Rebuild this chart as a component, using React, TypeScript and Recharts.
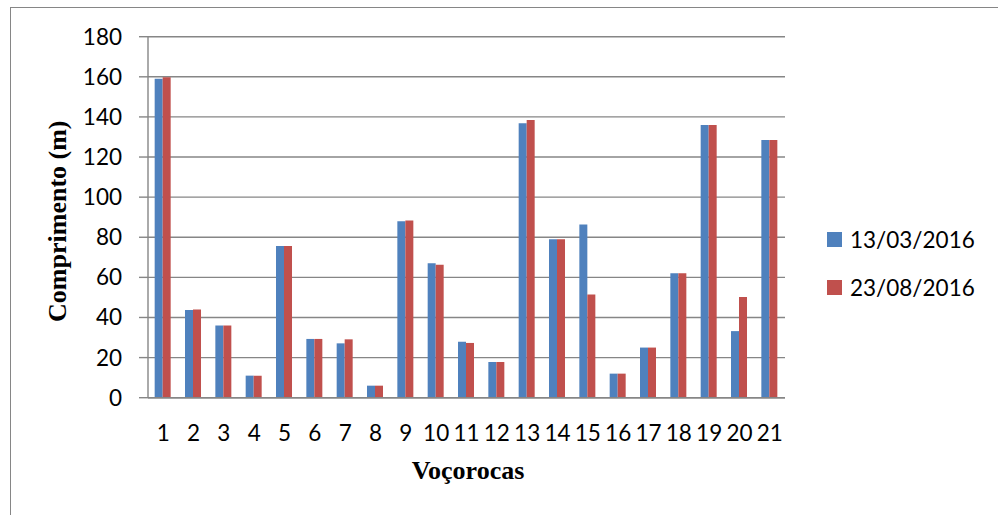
import { Bar, BarChart, CartesianGrid, Legend, XAxis, YAxis } from "recharts";

// Comprimento das voçorocas medido em duas campanhas (m)
const vocorocas = ["1", "2", "3", "4", "5", "6", "7", "8", "9", "10", "11", "12", "13", "14", "15", "16", "17", "18", "19", "20", "21"];
const medicaoMarco = [159, 43.7, 36, 11, 75.6, 29.3, 27.1, 6, 88, 67, 27.9, 17.8, 136.8, 79, 86.3, 12, 25, 62, 136, 33.2, 128.5];
const medicaoAgosto = [159.8, 44, 36, 11, 75.6, 29.3, 29.1, 6, 88.4, 66.3, 27.3, 17.8, 138.5, 79, 51.5, 12, 25, 62, 136, 50.2, 128.5];
const yTicks = [0, 20, 40, 60, 80, 100, 120, 140, 160, 180];

const rows = vocorocas.map((v, i) => ({ v, mar: medicaoMarco[i], ago: medicaoAgosto[i] }));

const GRAY = "#868686";
const TICK_FONT = "Lato, 'Open Sans', sans-serif";
const TITLE_FONT = "'Liberation Serif', 'Times New Roman', serif";

function AxisTitleX(props: any) {
  const vb = props.viewBox || { x: 148, y: 398, width: 637, height: 61 };
  return (
    <text x={vb.x + vb.width / 2 + 1.5} y={vb.y + 81.5} textAnchor="middle" fontFamily={TITLE_FONT} fontWeight="bold" fontSize={26} fill="#000">
      Voçorocas
    </text>
  );
}

function AxisTitleY(props: any) {
  const vb = props.viewBox || { x: 0, y: 37, width: 148, height: 361 };
  const cx = vb.x + 66;
  const cy = vb.y + vb.height / 2 + 4;
  return (
    <text x={cx} y={cy} transform={`rotate(-90, ${cx}, ${cy})`} textAnchor="middle" fontFamily={TITLE_FONT} fontWeight="bold" fontSize={26} fill="#000">
      Comprimento (m)
    </text>
  );
}

function LegendBox({ payload }: any) {
  return (
    <div style={{ fontFamily: TICK_FONT, fontSize: 22.5, color: "#000" }}>
      {(payload || []).map((p: any) => (
        <div key={p.value} style={{ display: "flex", alignItems: "center", height: 29, marginBottom: 19, whiteSpace: "nowrap" }}>
          <span style={{ display: "inline-block", width: 15, height: 15, background: p.color, marginRight: 8 }} />
          <span>{p.value}</span>
        </div>
      ))}
    </div>
  );
}

export default function App() {
  return (
    <div style={{ position: "absolute", left: 0, top: 0, width: 998, height: 515, overflow: "hidden", background: "#fff" }}>
      <div style={{ position: "absolute", left: 10, top: 7, width: 1000, height: 600, border: `1.5px solid ${GRAY}` }} />
      <BarChart
        width={998}
        height={515}
        data={rows}
        margin={{ top: 36.7, right: 213, bottom: 56.3, left: 0 }}
        barCategoryGap="22%"
        barGap={0}
      >
        <CartesianGrid horizontal vertical={false} stroke={GRAY} strokeWidth={1.4} />
        <XAxis
          dataKey="v"
          interval={0}
          height={61}
          tickLine={false}
          tickSize={0}
          tickMargin={27}
          axisLine={{ stroke: GRAY, strokeWidth: 1.4 }}
          tick={{ fill: "#000", fontFamily: TICK_FONT, fontSize: 22.5 }}
          label={{ content: AxisTitleX }}
        />
        <YAxis
          width={148}
          domain={[0, 180]}
          ticks={yTicks}
          interval={0}
          tickSize={9}
          tickMargin={17}
          tickLine={{ stroke: GRAY, strokeWidth: 1.4 }}
          axisLine={{ stroke: GRAY, strokeWidth: 1.4 }}
          tick={{ fill: "#000", fontFamily: TICK_FONT, fontSize: 22.5 }}
          label={{ content: AxisTitleY }}
        />
        <Legend
          layout="horizontal"
          verticalAlign="middle"
          align="center"
          wrapperStyle={{ left: 827, top: 225, width: 170, height: "auto" }}
          content={LegendBox}
        />
        <Bar dataKey="mar" name="13/03/2016" fill="#4F81BD" isAnimationActive={false} />
        <Bar dataKey="ago" name="23/08/2016" fill="#C0504D" isAnimationActive={false} />
      </BarChart>
    </div>
  );
}
